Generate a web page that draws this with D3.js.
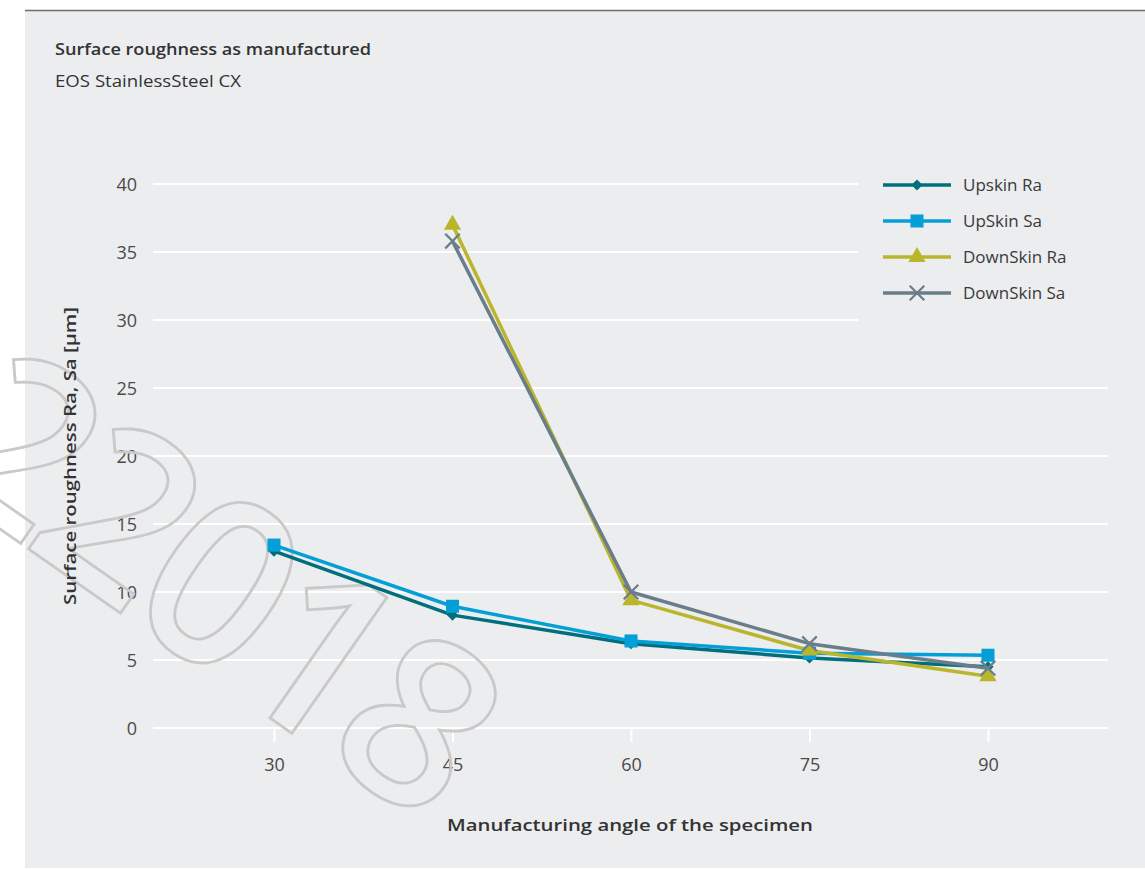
<!DOCTYPE html>
<html><head><meta charset="utf-8">
<script src="https://cdn.jsdelivr.net/npm/d3@7"></script>
<style>
html,body{margin:0;padding:0;background:#fff;}
svg{display:block;}
text{font-family:"Open Sans","Noto Sans",sans-serif;}
</style></head>
<body>
<svg id="chart" width="1145" height="869"></svg>
<script>
const titleText = "Surface roughness as manufactured";
const subtitleText = "EOS StainlessSteel CX";
const yLabelText = "Surface roughness Ra, Sa [µm]";
const xLabelText = "Manufacturing angle of the specimen";
const watermarkText = "22018";

const angles = [30, 45, 60, 75, 90];
const yTicks = [0, 5, 10, 15, 20, 25, 30, 35, 40];
const seriesNames = ["Upskin Ra", "UpSkin Sa", "DownSkin Ra", "DownSkin Sa"];
const upskinRa   = [13.0, 8.3, 6.2, 5.15, 4.5];
const upskinSa   = [13.45, 8.95, 6.4, 5.5, 5.35];
const downskinRa = [null, 37.0, 9.4, 5.7, 3.8];
const downskinSa = [null, 35.8, 10.0, 6.2, 4.4];

const colors = ["#006f7d", "#049fd6", "#bbb52c", "#6a7d8b"];
const markers = ["diamond", "square", "triangle", "cross"];

const svg = d3.select("#chart");
const W = 1145, H = 869;

// panel
svg.append("rect").attr("x", 25).attr("y", 10).attr("width", W - 25).attr("height", 858).attr("fill", "#ecedef");
svg.append("line").attr("x1", 25).attr("x2", W).attr("y1", 10.5).attr("y2", 10.5).attr("stroke", "#6e6e6e").attr("stroke-width", 1.5);

// titles
svg.append("text").attr("x", 55).attr("y", 55).attr("font-size", 16).attr("font-weight", 600).attr("fill", "#333")
  .attr("textLength", 316).attr("lengthAdjust", "spacingAndGlyphs").text(titleText);
svg.append("text").attr("x", 55).attr("y", 87).attr("font-size", 16).attr("font-weight", 400).attr("fill", "#333")
  .attr("textLength", 186).attr("lengthAdjust", "spacingAndGlyphs").text(subtitleText);

const x = d3.scaleLinear().domain([20, 100]).range([155, 1107]);
const y = d3.scaleLinear().domain([0, 40]).range([728, 184]);

// gridlines
const grid = svg.append("g");
yTicks.forEach(t => {
  grid.append("line")
    .attr("x1", 153).attr("x2", t >= 30 ? 858 : 1108)
    .attr("y1", y(t)).attr("y2", y(t))
    .attr("stroke", "#ffffff").attr("stroke-width", 2);
});

// axes
const yAxis = d3.axisLeft(y).tickValues(yTicks).tickSize(0).tickPadding(0).tickFormat(d3.format("d"));
const gy = svg.append("g").attr("transform", "translate(137,0)").call(yAxis);
gy.select(".domain").remove();
gy.selectAll("text").attr("font-size", 18).attr("fill", "#4a4a4a").attr("font-family", "'Open Sans',sans-serif").attr("dy", "0.35em");

const xAxis = d3.axisBottom(x).tickValues(angles).tickSize(14).tickPadding(26).tickFormat(d3.format("d"));
const gx = svg.append("g").attr("transform", "translate(0,728)").call(xAxis);
gx.select(".domain").remove();
gx.selectAll(".tick line").attr("stroke", "#ffffff").attr("stroke-width", 2);
gx.selectAll("text").attr("font-size", 18).attr("fill", "#4a4a4a").attr("font-family", "'Open Sans',sans-serif").attr("dy", "0.15em");

// watermark
svg.append("text").attr("transform", "translate(221,574) rotate(35)")
  .attr("text-anchor", "middle").attr("dominant-baseline", "central")
  .attr("font-size", 232).attr("font-family", "'Open Sans',sans-serif").attr("font-weight", 600)
  .attr("fill", "none").attr("stroke", "#c9c9c9").attr("stroke-width", 2.8)
  .attr("letter-spacing", -11)
  .text(watermarkText);

// axis labels
svg.append("text").attr("transform", "translate(76,456) rotate(-90)").attr("text-anchor", "middle")
  .attr("font-size", 17).attr("font-weight", 600).attr("fill", "#333")
  .attr("textLength", 298).attr("lengthAdjust", "spacingAndGlyphs").text(yLabelText);
svg.append("text").attr("x", 630).attr("y", 831).attr("text-anchor", "middle")
  .attr("font-size", 17).attr("font-weight", 600).attr("fill", "#333")
  .attr("textLength", 366).attr("lengthAdjust", "spacingAndGlyphs").text(xLabelText);

// series
const allSeries = [upskinRa, upskinSa, downskinRa, downskinSa];
const line = d3.line().defined(d => d.v !== null).x(d => x(d.a)).y(d => y(d.v));

function drawMarker(g, type, cx, cy, color) {
  if (type === "diamond") {
    g.append("path").attr("d", d3.symbol().type(d3.symbolDiamond2).size(80)()).attr("transform", `translate(${cx},${cy})`).attr("fill", color);
  } else if (type === "square") {
    g.append("path").attr("d", d3.symbol().type(d3.symbolSquare).size(170)()).attr("transform", `translate(${cx},${cy})`).attr("fill", color);
  } else if (type === "triangle") {
    g.append("path").attr("d", d3.symbol().type(d3.symbolTriangle).size(130)()).attr("transform", `translate(${cx},${cy})`).attr("fill", color);
  } else {
    g.append("path").attr("d", d3.symbol().type(d3.symbolTimes).size(140)()).attr("transform", `translate(${cx},${cy})`)
      .attr("fill", "none").attr("stroke", color).attr("stroke-width", 2.2);
  }
}

allSeries.forEach((vals, i) => {
  const data = angles.map((a, j) => ({a, v: vals[j]}));
  const g = svg.append("g");
  g.append("path").datum(data).attr("d", line).attr("fill", "none")
    .attr("stroke", colors[i]).attr("stroke-width", 3.5).attr("stroke-linejoin", "round");
  data.filter(d => d.v !== null).forEach(d => drawMarker(g, markers[i], x(d.a), y(d.v), colors[i]));
});

// legend
const legend = svg.append("g");
seriesNames.forEach((name, i) => {
  const ly = 185 + i * 36;
  legend.append("line").attr("x1", 883).attr("x2", 951).attr("y1", ly).attr("y2", ly)
    .attr("stroke", colors[i]).attr("stroke-width", 3.5);
  drawMarker(legend, markers[i], 917, ly, colors[i]);
  legend.append("text").attr("x", 963).attr("y", ly).attr("dy", "0.35em")
    .attr("font-size", 17).attr("fill", "#3a3a3a").text(name);
});
</script>
</body></html>
